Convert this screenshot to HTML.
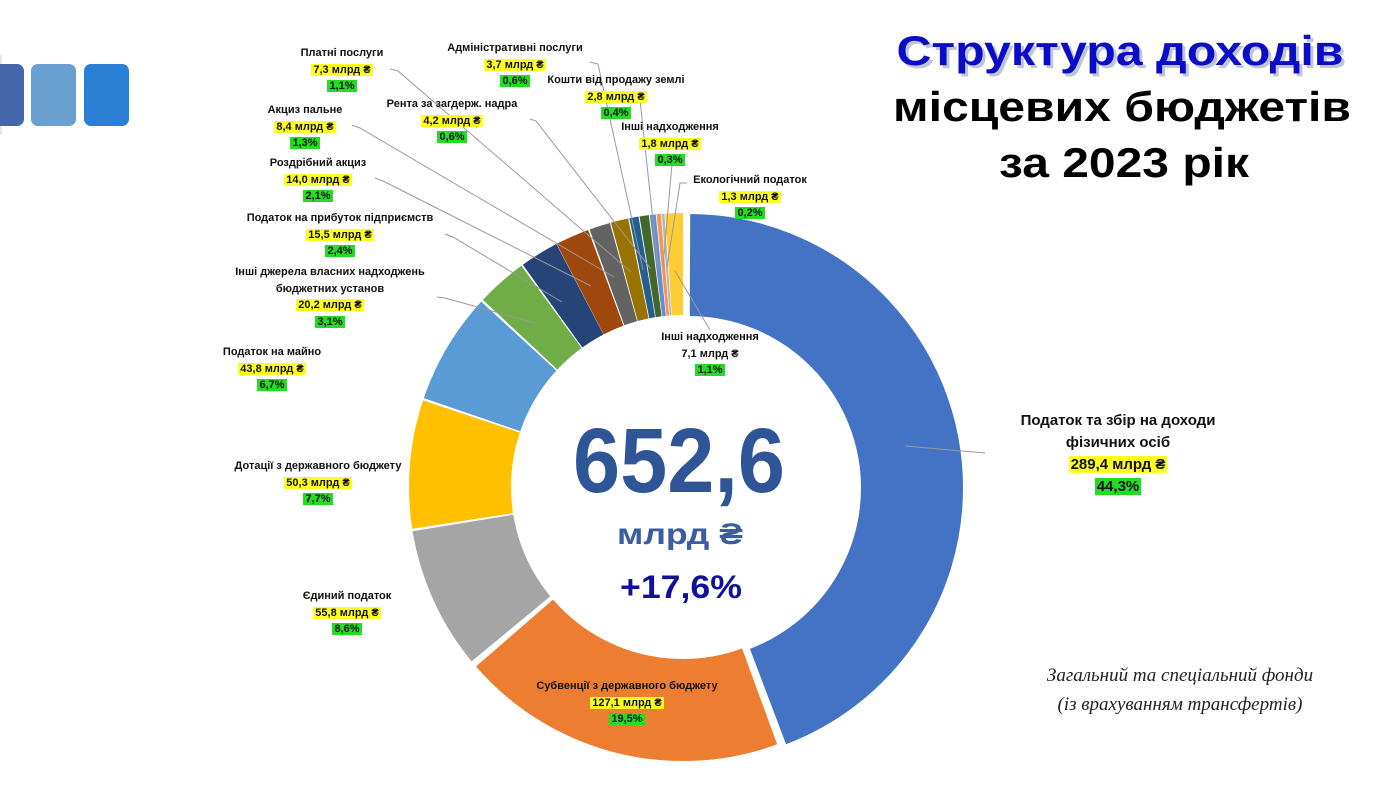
<!DOCTYPE html>
<html><head><meta charset="utf-8">
<style>
html,body{margin:0;padding:0;background:#fff;}
body{width:1400px;height:787px;position:relative;overflow:hidden;font-family:"Liberation Sans","DejaVu Sans",sans-serif;}
.l{position:absolute;width:300px;text-align:center;font-size:11px;font-weight:bold;line-height:16.5px;color:#111;white-space:nowrap;}
.y{background:#ffff22;padding:0 2px;}
.g{background:#22dd22;padding:0 2px;}
.big{font-size:15px;line-height:22px;}
</style></head><body>
<svg width="1400" height="787" style="position:absolute;left:0;top:0">
  <line x1="1" y1="55" x2="1" y2="135" stroke="#ccc" stroke-width="1"/>
  <rect x="-12" y="64" width="36" height="62" rx="7" fill="#4466aa"/>
  <rect x="31" y="64" width="45" height="62" rx="7" fill="#6aa0d0"/>
  <rect x="84" y="64" width="45" height="62" rx="7" fill="#2b7fd4"/>
  <g transform="rotate(-90 683 487)" fill="none" stroke-width="102">
    <g transform="translate(-1,6)">
      <circle cx="683" cy="487" r="223" stroke="#4472C4" stroke-dasharray="618.7 1401.15" stroke-dashoffset="-1"/>
    </g>
    <circle cx="683" cy="487" r="223" stroke="#ED7D31" stroke-dasharray="269.2 1401.15" stroke-dashoffset="-622.2"/>
    <circle cx="683" cy="487" r="223" stroke="#A5A5A5" stroke-dasharray="117.5 1401.15" stroke-dashoffset="-896.9"/>
    <circle cx="683" cy="487" r="223" stroke="#FFC000" stroke-dasharray="105.9 1401.15" stroke-dashoffset="-1016.5"/>
    <circle cx="683" cy="487" r="223" stroke="#5B9BD5" stroke-dasharray="92.0 1401.15" stroke-dashoffset="-1124.3"/>
    <circle cx="683" cy="487" r="223" stroke="#70AD47" stroke-dasharray="41.9 1401.15" stroke-dashoffset="-1218.3"/>
    <circle cx="683" cy="487" r="223" stroke="#264478" stroke-dasharray="32.1 1401.15" stroke-dashoffset="-1261.6"/>
    <circle cx="683" cy="487" r="223" stroke="#9E480E" stroke-dasharray="28.0 1401.15" stroke-dashoffset="-1294.0"/>
    <circle cx="683" cy="487" r="223" stroke="#636363" stroke-dasharray="17.3 1401.15" stroke-dashoffset="-1323.3"/>
    <circle cx="683" cy="487" r="223" stroke="#997300" stroke-dasharray="14.4 1401.15" stroke-dashoffset="-1341.5"/>
    <circle cx="683" cy="487" r="223" stroke="#255E91" stroke-dasharray="7.6 1401.15" stroke-dashoffset="-1356.9"/>
    <circle cx="683" cy="487" r="223" stroke="#43682B" stroke-dasharray="7.6 1401.15" stroke-dashoffset="-1365.3"/>
    <circle cx="683" cy="487" r="223" stroke="#698ED0" stroke-dasharray="4.9 1401.15" stroke-dashoffset="-1373.7"/>
    <circle cx="683" cy="487" r="223" stroke="#F1975A" stroke-dasharray="3.5 1401.15" stroke-dashoffset="-1379.3"/>
    <circle cx="683" cy="487" r="223" stroke="#B7B7B7" stroke-dasharray="2.2 1401.15" stroke-dashoffset="-1383.5"/>
    <circle cx="683" cy="487" r="223" stroke="#FFCD33" stroke-dasharray="14.6 1401.15" stroke-dashoffset="-1386.3"/>
  </g>
  <g stroke="#999" stroke-width="1" fill="none">
    <polyline points="390,69 398,71 631,272"/>
    <polyline points="590,62 598,64 643,270"/>
    <polyline points="530,119 536,121 651,269"/>
    <polyline points="352,125 360,128 614,277"/>
    <polyline points="375,178 383,181 591,286"/>
    <polyline points="445,234 453,237 562,302"/>
    <polyline points="437,297 445,298 535,323"/>
    <polyline points="640,100 658,267"/>
    <polyline points="672,164 663,267"/>
    <polyline points="687,183 680,183 667,267"/>
    <polyline points="710,330 675,271"/>
    <polyline points="905,446 985,453"/>
  </g>
  <text x="1120" y="65" text-anchor="middle" font-family="Liberation Sans" font-weight="bold" font-size="42" fill="#7f8fb0" opacity="0.5" textLength="447" lengthAdjust="spacingAndGlyphs" transform="translate(3,3)">Структура доходів</text>
  <text x="1120" y="65" text-anchor="middle" font-family="Liberation Sans" font-weight="bold" font-size="42" fill="#0b0bc8" textLength="447" lengthAdjust="spacingAndGlyphs">Структура доходів</text>
  <text x="1122" y="121" text-anchor="middle" font-family="Liberation Sans" font-weight="bold" font-size="42" fill="#000" textLength="458" lengthAdjust="spacingAndGlyphs">місцевих бюджетів</text>
  <text x="1124" y="177" text-anchor="middle" font-family="Liberation Sans" font-weight="bold" font-size="42" fill="#000" textLength="250" lengthAdjust="spacingAndGlyphs">за 2023 рік</text>
  <text x="679" y="492" text-anchor="middle" font-family="Liberation Sans" font-weight="bold" font-size="92" fill="#2F5597" textLength="212" lengthAdjust="spacingAndGlyphs">652,6</text>
  <text x="680" y="544" text-anchor="middle" font-family="Liberation Sans" font-weight="bold" font-size="30" fill="#3a5d9c" textLength="126" lengthAdjust="spacingAndGlyphs">млрд ₴</text>
  <text x="681" y="598" text-anchor="middle" font-family="Liberation Sans" font-weight="bold" font-size="32" fill="#10109a" textLength="122" lengthAdjust="spacingAndGlyphs">+17,6%</text>
  <text x="1180" y="681" text-anchor="middle" font-family="Liberation Serif" font-style="italic" font-size="19" fill="#222">Загальний та спеціальний фонди</text>
  <text x="1180" y="710" text-anchor="middle" font-family="Liberation Serif" font-style="italic" font-size="19" fill="#222">(із врахуванням трансфертів)</text>
</svg>

<div class="l" style="left:192px;top:45px">Платні послуги<br><span class="y">7,3 млрд ₴</span><br><span class="g">1,1%</span></div>
<div class="l" style="left:365px;top:40px">Адміністративні послуги<br><span class="y">3,7 млрд ₴</span><br><span class="g">0,6%</span></div>
<div class="l" style="left:466px;top:72px">Кошти від продажу землі<br><span class="y">2,8 млрд ₴</span><br><span class="g">0,4%</span></div>
<div class="l" style="left:520px;top:119px">Інші надходження<br><span class="y">1,8 млрд ₴</span><br><span class="g">0,3%</span></div>
<div class="l" style="left:600px;top:172px">Екологічний податок<br><span class="y">1,3 млрд ₴</span><br><span class="g">0,2%</span></div>
<div class="l" style="left:302px;top:96px">Рента за загдерж. надра<br><span class="y">4,2 млрд ₴</span><br><span class="g">0,6%</span></div>
<div class="l" style="left:155px;top:102px">Акциз пальне<br><span class="y">8,4 млрд ₴</span><br><span class="g">1,3%</span></div>
<div class="l" style="left:168px;top:155px">Роздрібний акциз<br><span class="y">14,0 млрд ₴</span><br><span class="g">2,1%</span></div>
<div class="l" style="left:190px;top:210px">Податок на прибуток підприємств<br><span class="y">15,5 млрд ₴</span><br><span class="g">2,4%</span></div>
<div class="l" style="left:180px;top:264px">Інші джерела власних надходжень<br>бюджетних установ<br><span class="y">20,2 млрд ₴</span><br><span class="g">3,1%</span></div>
<div class="l" style="left:122px;top:344px">Податок на майно<br><span class="y">43,8 млрд ₴</span><br><span class="g">6,7%</span></div>
<div class="l" style="left:168px;top:458px">Дотації з державного бюджету<br><span class="y">50,3 млрд ₴</span><br><span class="g">7,7%</span></div>
<div class="l" style="left:197px;top:588px">Єдиний податок<br><span class="y">55,8 млрд ₴</span><br><span class="g">8,6%</span></div>
<div class="l" style="left:477px;top:678px">Субвенції з державного бюджету<br><span class="y">127,1 млрд ₴</span><br><span class="g">19,5%</span></div>
<div class="l" style="left:560px;top:329px">Інші надходження<br>7,1 млрд ₴<br><span class="g">1,1%</span></div>
<div class="l big" style="left:968px;top:410px">Податок та збір на доходи<br>фізичних осіб<br><span class="y">289,4 млрд ₴</span><br><span class="g">44,3%</span></div>
</body></html>
